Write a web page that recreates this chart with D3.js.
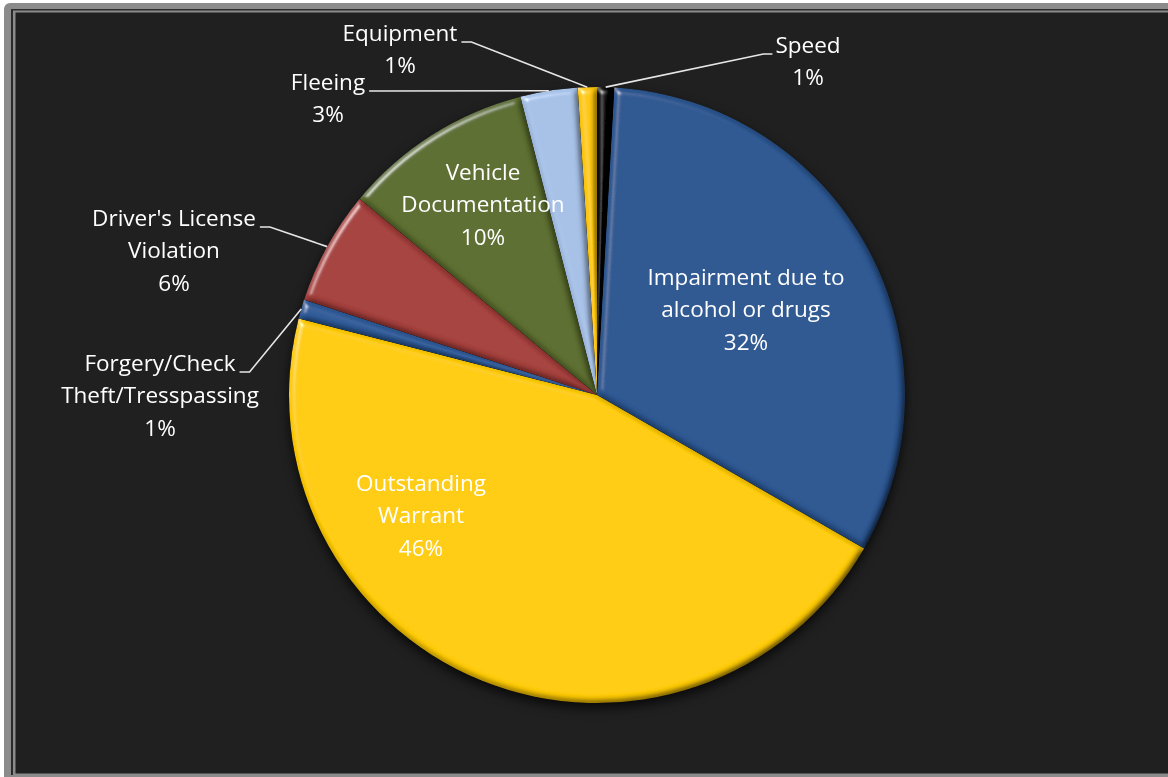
<!DOCTYPE html>
<html>
<head>
<meta charset="utf-8">
<script src="https://cdn.jsdelivr.net/npm/d3@7"></script>
<style>
  html, body { margin: 0; padding: 0; background: #ffffff; overflow: hidden; }
  svg { display: block; }
</style>
</head>
<body>
<svg id="chart" width="1168" height="777"></svg>
<script>
// ---------------- DATA ----------------
const categories = [
  "Speed",
  "Impairment due to alcohol or drugs",
  "Outstanding Warrant",
  "Forgery/Check Theft/Tresspassing",
  "Driver's License Violation",
  "Vehicle Documentation",
  "Fleeing",
  "Equipment"
];
const values = [0.9, 32.4, 45.7, 1.0, 6.0, 10.0, 3.0, 1.0];
const labelLines = [
  ["Speed"],
  ["Impairment due to", "alcohol or drugs"],
  ["Outstanding", "Warrant"],
  ["Forgery/Check", "Theft/Tresspassing"],
  ["Driver's License", "Violation"],
  ["Vehicle", "Documentation"],
  ["Fleeing"],
  ["Equipment"]
];

// ---------------- LAYOUT / STYLE ----------------
const W = 1168, H = 777;
const cx = 597, cy = 395, R = 308;
const colors = ["#050505", "#2c5690", "#ffcb05", "#2f5b98", "#a43f3c", "#5b6d2f", "#a6c0e6", "#ffc80a"];
// label anchor: [center x, first-line center y], side of leader (-1 label left of pie, 1 label right, 0 inside)
const labelLayout = [
  { x: 808, y: 44, side: 1 },
  { x: 746, y: 276, side: 0 },
  { x: 421, y: 482, side: 0 },
  { x: 160, y: 362, side: -1 },
  { x: 174, y: 217, side: -1 },
  { x: 483, y: 171, side: 0 },
  { x: 328, y: 81, side: -1 },
  { x: 400, y: 32, side: -1 }
];
const lineStep = 32.5;
const fontFamily = "'Open Sans', 'Noto Sans', sans-serif";
const fontSize = 22.5;

const svg = d3.select("#chart");
const defs = svg.append("defs");

// bevel filter
const bevel = defs.append("filter").attr("id", "bevel")
  .attr("x", "-5%").attr("y", "-5%").attr("width", "110%").attr("height", "110%");
bevel.append("feGaussianBlur").attr("in", "SourceAlpha").attr("stdDeviation", 3).attr("result", "blur");
const spec = bevel.append("feSpecularLighting").attr("in", "blur")
  .attr("surfaceScale", 5).attr("specularConstant", 0.8).attr("specularExponent", 30)
  .attr("lighting-color", "#ffffff").attr("result", "spec");
spec.append("feDistantLight").attr("azimuth", 225).attr("elevation", 30);
bevel.append("feComposite").attr("in", "spec").attr("in2", "SourceAlpha").attr("operator", "in").attr("result", "specIn");
const diff = bevel.append("feDiffuseLighting").attr("in", "blur")
  .attr("surfaceScale", 5).attr("diffuseConstant", 1.155)
  .attr("lighting-color", "#ffffff").attr("result", "diff");
diff.append("feDistantLight").attr("azimuth", 225).attr("elevation", 60);
bevel.append("feComposite").attr("in", "SourceGraphic").attr("in2", "diff")
  .attr("operator", "arithmetic").attr("k1", 1).attr("k2", 0).attr("k3", 0).attr("k4", 0).attr("result", "lit");
bevel.append("feComposite").attr("in", "lit").attr("in2", "SourceAlpha").attr("operator", "in").attr("result", "litIn");
bevel.append("feComposite").attr("in", "litIn").attr("in2", "specIn")
  .attr("operator", "arithmetic").attr("k1", 0).attr("k2", 1).attr("k3", 0.6).attr("k4", 0);

const shadow = defs.append("filter").attr("id", "shadow")
  .attr("x", "-10%").attr("y", "-10%").attr("width", "120%").attr("height", "125%");
shadow.append("feDropShadow").attr("dx", 0).attr("dy", 5).attr("stdDeviation", 6)
  .attr("flood-color", "#000").attr("flood-opacity", 0.75);

// ---------------- FRAME ----------------
svg.append("rect").attr("x", 0).attr("y", 0).attr("width", W).attr("height", H).attr("fill", "#ffffff");
svg.append("rect").attr("x", 4).attr("y", 3).attr("width", W + 20).attr("height", H - 3 + 20)
  .attr("rx", 6).attr("fill", "#8b8b8b");
svg.append("rect").attr("x", 11).attr("y", 9).attr("width", W).attr("height", 766)
  .attr("fill", "#2b2b2b");
svg.append("rect").attr("x", 13).attr("y", 10.5).attr("width", W).attr("height", 765)
  .attr("fill", "#8b8b8b");
svg.append("rect").attr("x", 15.5).attr("y", 12.5).attr("width", W).attr("height", 761)
  .attr("fill", "#202020");

// ---------------- PIE ----------------
const pie = d3.pie().value(d => d).sort(null).startAngle(0).endAngle(2 * Math.PI);
const arcs = pie(values);
const arc = d3.arc().innerRadius(0).outerRadius(R);

const g = svg.append("g").attr("transform", `translate(${cx},${cy})`);
const pieG = g.append("g").attr("filter", "url(#shadow)");
pieG.selectAll("path.slice")
  .data(arcs)
  .join("path")
  .attr("class", "slice")
  .attr("d", arc)
  .attr("fill", (d, i) => colors[i])
  .attr("filter", "url(#bevel)");

// ---------------- LABELS ----------------
const pct = d3.format(".0%");
const total = d3.sum(values);
const labelsG = svg.append("g")
  .attr("font-family", fontFamily).attr("font-size", fontSize).attr("fill", "#ffffff")
  .attr("text-anchor", "middle");

arcs.forEach((d, i) => {
  const L = labelLayout[i];
  const lines = labelLines[i].concat([pct(values[i] / total)]);
  const t = labelsG.append("text").attr("x", L.x).attr("y", L.y);
  lines.forEach((ln, k) => {
    t.append("tspan").attr("x", L.x).attr("y", L.y + k * lineStep)
      .attr("dominant-baseline", "central").text(ln);
  });
  if (L.side !== 0) {
    const firstW = t.select("tspan").node().getComputedTextLength();
    const mid = (d.startAngle + d.endAngle) / 2;
    const ex = cx + R * Math.sin(mid), ey = cy - R * Math.cos(mid);
    const ly = L.y + 10;
    let sx, elx;
    if (L.side < 0) { sx = L.x + firstW / 2 + 4; elx = sx + 10; }
    else { sx = L.x - firstW / 2 - 3; elx = sx - 9; }
    svg.append("path")
      .attr("d", d3.line()([[sx, ly], [elx, ly], [ex, ey]]))
      .attr("fill", "none").attr("stroke", "#e6e6e6").attr("stroke-width", 1.6);
  }
});
</script>
</body>
</html>
